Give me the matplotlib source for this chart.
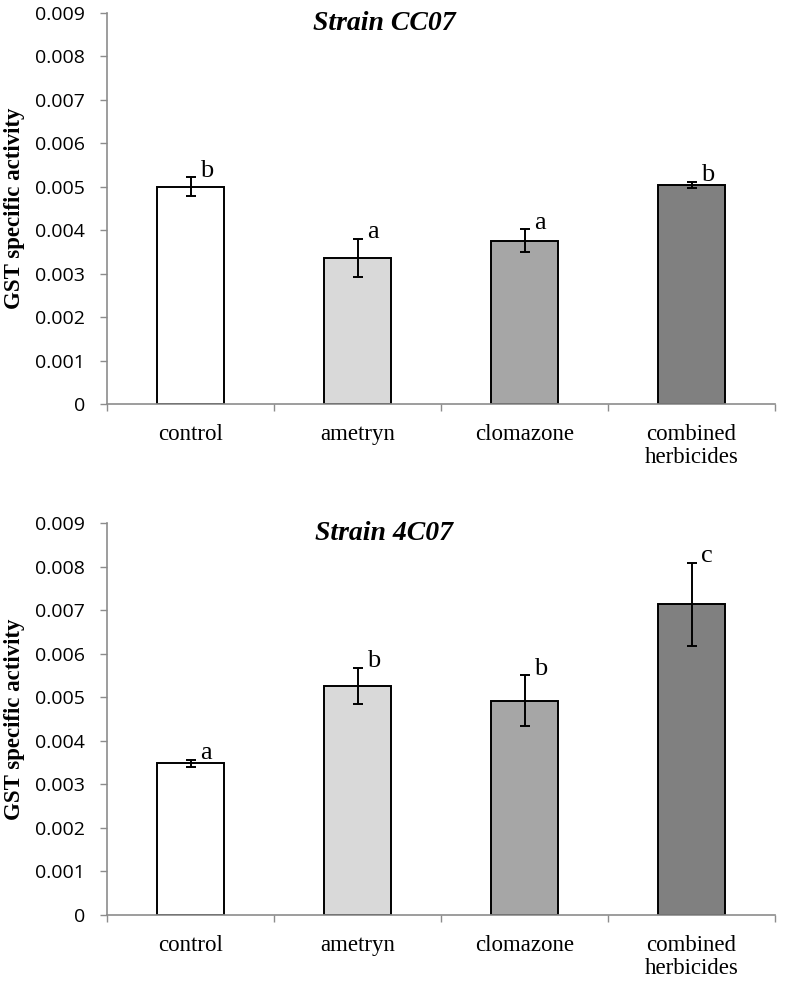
import matplotlib.pyplot as plt

categories = ['control', 'ametryn', 'clomazone', 'combined\nherbicides']
colors = ['#ffffff', '#d9d9d9', '#a6a6a6', '#808080']

cc07_mean = [0.00500, 0.00336, 0.00376, 0.00505]
cc07_err = [0.00022, 0.00044, 0.00026, 0.00007]
cc07_letters = ['b', 'a', 'a', 'b']

c4c07_mean = [0.00348, 0.00526, 0.00492, 0.00713]
c4c07_err = [0.00008, 0.00042, 0.00058, 0.00095]
c4c07_letters = ['a', 'b', 'b', 'c']

W, H = 785, 983
fig = plt.figure(figsize=(W / 100, H / 100), dpi=100)

serif = 'Liberation Serif'
sans = 'Open Sans'
axis_gray = '#8c8c8c'


def panel(rect, means, errs, letters, title):
    l, t, r, b = rect
    ax = fig.add_axes([l / W, 1 - b / H, (r - l) / W, (b - t) / H])
    x = range(len(categories))
    ax.bar(x, means, width=0.4, color=colors, edgecolor='black', linewidth=1.4, zorder=2)
    ax.errorbar(x, means, yerr=errs, fmt='none', ecolor='black', elinewidth=1.4,
                capsize=3.3, capthick=1.4, zorder=3)
    for i in x:
        ax.text(i + 0.055, means[i] + errs[i] - 0.0001, letters[i], family=serif,
                fontsize=19, ha='left', va='bottom')
    ax.set_xlim(-0.5, len(categories) - 0.5)
    ax.set_ylim(0, 0.009)
    ax.set_yticks([i * 0.001 for i in range(10)])
    ax.set_yticklabels(['0'] + ['%.3f' % (i * 0.001) for i in range(1, 10)],
                       family=sans, fontsize=14)
    ax.set_xticks([i - 0.5 for i in range(len(categories) + 1)])
    ax.set_xticklabels([])
    for i, c in enumerate(categories):
        ax.text(i, -0.00046, c, family=serif, fontsize=16.5, ha='center', va='top',
                linespacing=1.15)
    ax.tick_params(axis='x', length=5, color=axis_gray, width=1)
    ax.tick_params(axis='y', length=5, color=axis_gray, width=1, pad=11)
    for s in ['top', 'right']:
        ax.spines[s].set_visible(False)
    for s in ['left', 'bottom']:
        ax.spines[s].set_color(axis_gray)
        ax.spines[s].set_linewidth(1.2)
    ax.set_ylabel('GST specific activity', family=serif, fontweight='bold',
                  fontsize=16.5)
    ax.yaxis.set_label_coords(-0.123, 0.5)
    ax.text(0.415, 0.972, title, transform=ax.transAxes, family=serif,
            fontweight='bold', style='italic', fontsize=20, ha='center', va='center')
    return ax


panel((107, 13, 775, 404), cc07_mean, cc07_err, cc07_letters, 'Strain CC07')
panel((107, 523, 775, 915), c4c07_mean, c4c07_err, c4c07_letters, 'Strain 4C07')

fig.savefig('out.png', dpi=100, facecolor='white')
